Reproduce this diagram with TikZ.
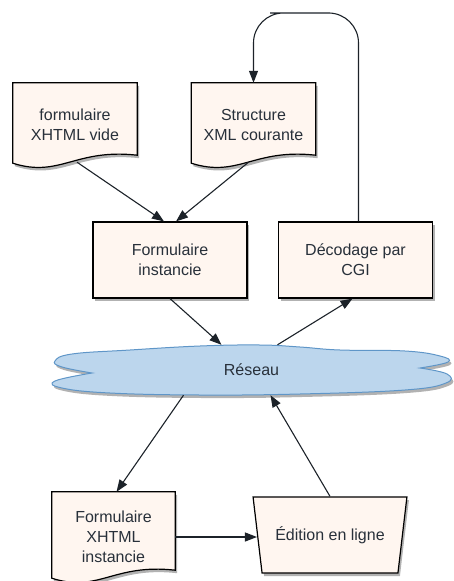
\documentclass[tikz,border=0pt]{standalone}
\usepackage{fontspec}
\setmainfont{Liberation Sans}
\usepackage{tikz}
\usetikzlibrary{positioning,calc}
\usetikzlibrary{arrows.meta,shapes.geometric,shadows,backgrounds}
\definecolor{PaleRose}{RGB}{255,246,240}
\definecolor{NetBlue}{RGB}{188,214,237}
\definecolor{NetEdge}{RGB}{95,150,200}
\definecolor{InkGray}{RGB}{40,48,58}
\tikzset{
	softshadow/.style={drop shadow={shadow xshift=2pt,shadow yshift=-3pt,fill=black,opacity=.3}},
	box/.style={rectangle,draw=black,fill=PaleRose,line width=1.2pt,minimum width=154pt,
		minimum height=76pt,align=center,text=InkGray,font=\fontsize{16}{20}\selectfont,softshadow},
	doc/.style={rectangle,minimum width=124pt,minimum height=84pt,align=center,
		text=InkGray,font=\fontsize{16}{20}\selectfont},
	docline/.style={draw=black,fill=PaleRose,line width=1.2pt,softshadow},
	net/.style={ellipse,minimum width=397pt,minimum height=50pt,text=InkGray,
		font=\fontsize{16}{20}\selectfont},
	netline/.style={draw=NetEdge,fill=NetBlue,line width=1pt,softshadow},
	edit/.style={trapezium,shape border rotate=180,trapezium left angle=69,trapezium right angle=69,
		trapezium stretches=true,minimum width=154pt,minimum height=76pt,draw=black,fill=PaleRose,
		line width=1.2pt,inner sep=1pt,text=InkGray,font=\fontsize{16}{20}\selectfont,softshadow},
	arr/.style={draw=InkGray!70!black,line width=1.1pt,-{Triangle[length=12pt,width=9pt]}},
}
\begin{document}
\begin{tikzpicture}[x=1pt,y=-1pt]
	\useasboundingbox (0,0) rectangle (453,581);
	\node[doc] (vide) at (75,125) {formulaire\\XHTML vide};
	\node[doc] (xmlc) at (253.5,125) {Structure\\XML courante};
	\node[box] (inst) at (170,260) {Formulaire\\instancie};
	\node[box] (dec) at (355.5,260) {Décodage par\\CGI};
	\node[net] (res) at (251.5,370) {Réseau};
	\node[doc,minimum width=123pt,minimum height=90pt] (finst) at (113.5,537) {Formulaire\\XHTML\\instancie};
	\node[edit] (ed) at (330,535) {Édition en ligne};
	\coordinate (loop) at (300,13);
	\begin{scope}[on background layer]
		\foreach \n in {vide,xmlc,finst}
		\draw[docline] (\n.north west) -- (\n.north east) -- ($(\n.south east)+(0,-12)$)
			.. controls +(-62,-7) and +(47,15) .. ($(\n.south west)+(0,-4)$) -- cycle;
		\begin{scope}[shift={(res.center)}]
			\draw[netline] plot[smooth,tension=.7] coordinates {(-159.5,3) (-189.5,-3) (-196.5,-9)
				(-179.5,-16) (-121.5,-20) (-51.5,-24) (8.5,-25) (48.5,-23) (88.5,-20) (153.5,-19)
				(188.5,-14) (196.5,-8) (168.5,-2)}
				-- plot[smooth,tension=.7] coordinates {(168.5,-2) (195.5,4) (194.5,13) (153.5,20)
				(48.5,24) (-51.5,25) (-141.5,23) (-189.5,18) (-196.5,11) (-159.5,3)} -- cycle;
		\end{scope}
	\end{scope}
	\draw[arr] ($(vide.south)+(2,-5)$) -- ($(inst.north)+(-6,0)$);
	\draw[arr] ($(xmlc.south)+(-5,-5)$) -- ($(inst.north)+(6,0)$);
	\draw[arr] (inst.south) -- ($(res.north)+(-30,0)$);
	\draw[arr] ($(res.north)+(26,0)$) -- ($(dec.south)+(-3,0)$);
	\draw[arr] ($(res.south)+(-68,0)$) -- ($(finst.north)+(3,0)$);
	\draw[arr] (ed.north) -- ($(res.south)+(19,0)$);
	\draw[arr] (finst.east) -- (finst.east -| ed.west);
	\draw[arr,rounded corners=30pt] ($(dec.north)+(3,0)$) |- (loop) -| (xmlc.north);
\end{tikzpicture}
\end{document}
